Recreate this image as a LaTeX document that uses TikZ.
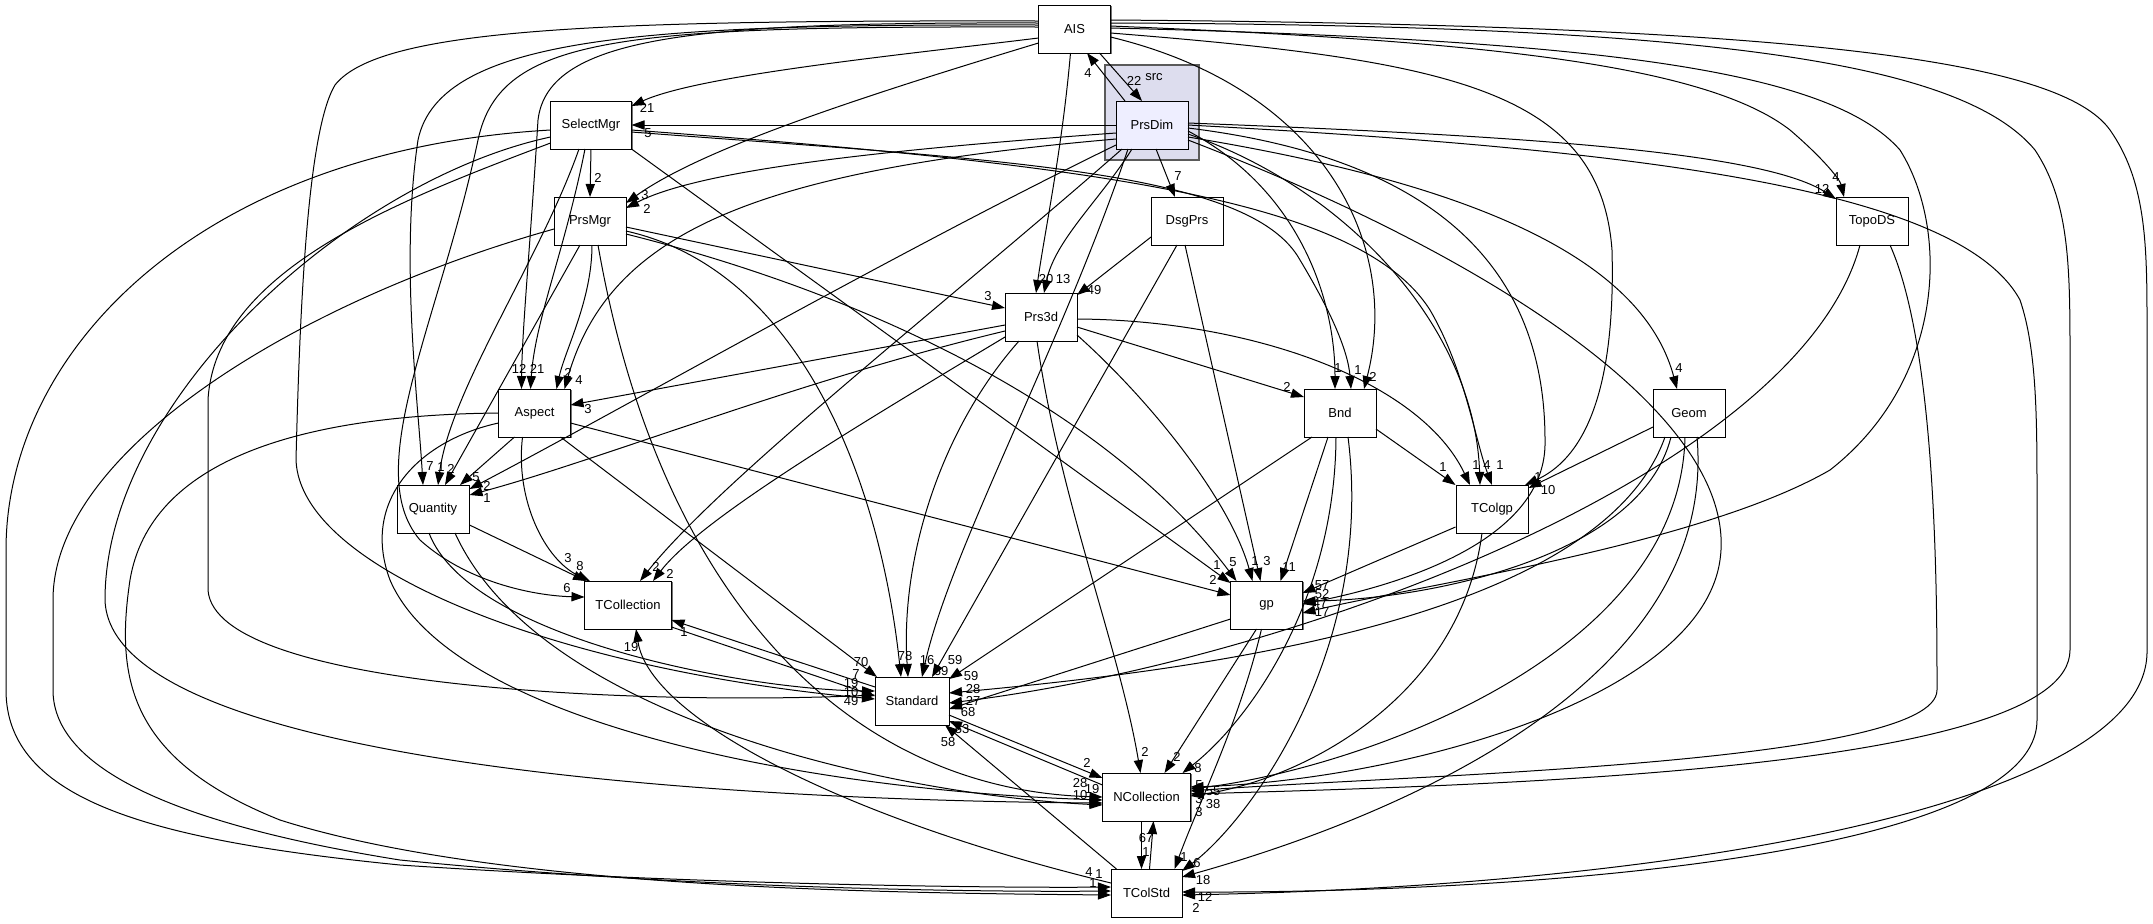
\documentclass[tikz,border=0pt]{standalone}
\usepackage{fontspec}
\setmainfont{Liberation Sans}
\usetikzlibrary{arrows.meta,calc,shadows}
\definecolor{clfill}{RGB}{221,221,238}
\definecolor{clline}{RGB}{90,90,90}
\definecolor{pdfill}{RGB}{238,238,255}
\begin{document}
\begin{tikzpicture}[x=0.5pt,y=-0.5pt,
  box/.style={draw=black, line width=0.5pt, fill=white, minimum width=36pt, minimum height=24pt, inner sep=0pt, font=\fontsize{6.5}{7}\selectfont,
     general shadow={fill=black!55, shadow xshift=0.6pt, shadow yshift=-0.6pt}},
  e/.style={line width=0.5pt, -{Triangle[length=6.5pt,width=4.6pt]}},
  lbl/.style={font=\fontsize{6.5}{7}\selectfont, inner sep=0pt}]
\useasboundingbox (0,0) rectangle (2153,923);
\fill[white] (0,0) rectangle (2153,923);
% cluster
\node[draw=clline, line width=0.7pt, fill=clfill, minimum width=47pt, minimum height=47.5pt, inner sep=0pt,
      general shadow={fill=black!45, shadow xshift=0.6pt, shadow yshift=-0.6pt}] (srcbox) at (1152,112.5) {};
\node[lbl] (srclbl) at (1154,77) {src};
% nodes
\node[box] (ais) at (1074.5,29) {AIS};
\node[box, fill=pdfill] (pd) at (1152,125) {PrsDim};
\node[box, minimum width=40.5pt] (sm) at (591,125) {SelectMgr};
\node[box] (pm) at (590,221) {PrsMgr};
\node[box] (dp) at (1187,221) {DsgPrs};
\node[box] (td) at (1872,221) {TopoDS};
\node[box] (p3) at (1041,317) {Prs3d};
\node[box] (bnd) at (1340,413) {Bnd};
\node[box] (geom) at (1689,413) {Geom};
\node[box] (asp) at (534.5,413) {Aspect};
\node[box] (qty) at (433,509) {Quantity};
\node[box] (tcg) at (1492,509) {TColgp};
\node[box, minimum width=43.5pt] (tcl) at (628,605) {TCollection};
\node[box] (gp) at (1266.5,605) {gp};
\node[box, minimum width=37pt] (std) at (912,701) {Standard};
\node[box, minimum width=44pt] (ncl) at (1146.5,797) {NCollection};
\node[box, minimum width=35.5pt] (tcs) at (1146.5,893) {TColStd};

% ---- AIS outgoing
\draw[e] ($(ais)+(-36,9)$) .. controls (900,55) and (700,75) .. ($(sm)+(40.5,-19)$) node[lbl] (L1) at (647,108) {21};
\draw[e] ($(ais)+(25,24)$) -- ($(pd)+(-10,-24)$) node[lbl] (L2) at (1134,81) {22};
\draw[e] ($(pd)+(-27,-24)$) -- ($(ais)+(12.5,24)$) node[lbl] (L3) at (1088,73) {4};
\draw[e] ($(ais)+(-36,14)$) .. controls (850,100) and (700,150) .. ($(pm)+(36,-18)$) node[lbl] (L4) at (645,195) {3};
\draw[e] ($(ais)+(-4,24)$) .. controls (1062,150) and (1045,230) .. ($(p3)+(-5,-24)$) node[lbl] (L5) at (1046,279) {20};
\draw[e] ($(ais)+(-36,-6)$) .. controls (700,22) and (548,35) .. (538,120) .. controls (530,250) and (522,330) .. ($(asp)+(-13,-24)$) node[lbl] (L6) at (519,369) {12};
\draw[e] ($(ais)+(-36,-4)$) .. controls (650,24) and (440,35) .. (418,140) .. controls (400,260) and (418,400) .. ($(qty)+(-10,-24)$) node[lbl] (L7) at (430,466) {7};
\draw[e] ($(ais)+(-36,-2)$) .. controls (620,26) and (500,36) .. (478,140) .. controls (440,320) and (360,470) .. (420,540) .. controls (470,585) and (540,596) .. ($(tcl)+(-43.5,-8)$) node[lbl] (L8) at (567,588) {6};
\draw[e] ($(ais)+(-36,-8)$) .. controls (600,20) and (380,28) .. (335,85) .. controls (308,130) and (300,300) .. (296,460) .. controls (300,570) and (560,670) .. ($(std)+(-37,-2)$) node[lbl] (L9) at (851,692) {10};
\draw[e] ($(ais)+(36,-3)$) .. controls (1450,40) and (1700,60) .. (1790,130) .. controls (1825,160) and (1840,180) .. ($(td)+(-28,-24)$) node[lbl] (L10) at (1836,177) {4};
\draw[e] ($(ais)+(36,8)$) .. controls (1330,90) and (1400,250) .. ($(bnd)+(24,-24)$) node[lbl] (L11) at (1373,377) {2};
\draw[e] ($(ais)+(36,4)$) .. controls (1450,60) and (1600,90) .. (1612,250) .. controls (1616,400) and (1580,460) .. ($(tcg)+(33,-24)$) node[lbl] (L12) at (1538,477) {1};
\draw[e] ($(ais)+(36,-1)$) .. controls (1600,40) and (1830,70) .. (1900,150) .. controls (1950,230) and (1945,380) .. (1830,470) .. controls (1700,545) and (1420,585) .. ($(gp)+(36,8)$) node[lbl] (L13) at (1322,612) {17};
\draw[e] ($(ais)+(36,-6)$) .. controls (1700,25) and (1960,60) .. (2035,150) .. controls (2068,200) and (2070,260) .. (2070,350) -- (2070,650) .. controls (2070,770) and (1500,785) .. ($(ncl)+(44,-3)$) node[lbl] (L14) at (1199,785) {5};
\draw[e] ($(ais)+(36,-9)$) .. controls (1800,25) and (2060,60) .. (2110,130) .. controls (2145,180) and (2147,240) .. (2147,320) -- (2147,650) .. controls (2150,800) and (1700,885) .. ($(tcs)+(35.5,2)$) node[lbl] (L15) at (1196,908) {2};

% ---- PrsDim outgoing
\draw[e] ($(pd)+(-36,0)$) -- ($(sm)+(40.5,0)$) node[lbl] (L16) at (648,133) {5};
\draw[e] ($(pd)+(-36,8)$) .. controls (880,150) and (700,170) .. ($(pm)+(36,-13)$) node[lbl] (L17) at (647,209) {2};
\draw[e] ($(pd)+(4,24)$) -- ($(dp)+(-12,-24)$) node[lbl] (L18) at (1178,176) {7};
\draw[e] ($(pd)+(-20,24)$) .. controls (1100,200) and (1055,240) .. ($(p3)+(3,-24)$) node[lbl] (L19) at (1063,279) {13};
\draw[e] ($(pd)+(-36,14)$) .. controls (760,170) and (610,230) .. ($(asp)+(30,-24)$) node[lbl] (L20) at (579,380) {4};
\draw[e] ($(pd)+(-36,20)$) .. controls (900,250) and (620,410) .. ($(qty)+(36.5,-20)$) node[lbl] (L21) at (487,486) {2};
\draw[e] ($(pd)+(-30,24)$) .. controls (950,300) and (720,480) .. ($(tcl)+(12,-24)$) node[lbl] (L22) at (656,567) {2};
\draw[e] ($(pd)+(-24,24)$) .. controls (1060,350) and (950,550) .. ($(std)+(10,-24)$) node[lbl] (L23) at (927,660) {16};
\draw[e] ($(pd)+(36,6)$) .. controls (1300,190) and (1335,300) .. ($(bnd)+(-5,-24)$) node[lbl] (L24) at (1338,368) {1};
\draw[e] ($(pd)+(36,9)$) .. controls (1350,190) and (1475,330) .. ($(tcg)+(-12,-24)$) node[lbl] (L25) at (1487,465) {4};
\draw[e] ($(pd)+(36,3)$) .. controls (1450,160) and (1545,280) .. (1545,440) .. controls (1548,540) and (1400,585) .. ($(gp)+(36,-1)$) node[lbl] (L26) at (1322,594) {52};
\draw[e] ($(pd)+(36,12)$) .. controls (1450,180) and (1640,250) .. ($(geom)+(-12,-24)$) node[lbl] (L27) at (1679,368) {4};
\draw[e] ($(pd)+(36,-2)$) .. controls (1500,135) and (1760,150) .. ($(td)+(-36,-22)$) node[lbl] (L28) at (1822,189) {12};
\draw[e] ($(pd)+(36,15)$) .. controls (1500,260) and (1740,420) .. (1720,560) .. controls (1700,700) and (1400,780) .. ($(ncl)+(44,-10)$) node[lbl] (L29) at (1213,791) {55};
\draw[e] ($(pd)+(36,0)$) .. controls (1650,150) and (1960,190) .. (2020,300) .. controls (2037,350) and (2037,420) .. (2037,500) -- (2037,720) .. controls (2037,860) and (1500,893) .. ($(tcs)+(35.5,-1)$) node[lbl] (L30) at (1205,897) {12};

% ---- SelectMgr outgoing
\draw[e] ($(sm)+(0,24)$) -- ($(pm)+(0,-24)$) node[lbl] (L31) at (598,178) {2};
\draw[e] ($(sm)+(-6,24)$) .. controls (565,250) and (535,320) .. ($(asp)+(-4,-24)$) node[lbl] (L32) at (537,369) {21};
\draw[e] ($(sm)+(-12,24)$) .. controls (540,260) and (450,390) .. ($(qty)+(5,-24)$) node[lbl] (L33) at (441,467) {1};
\draw[e] ($(sm)+(-40.5,18)$) .. controls (400,200) and (215,270) .. (208,400) -- (208,590) .. controls (215,690) and (650,705) .. ($(std)+(-37,-6)$) node[lbl] (L34) at (851,683) {19};
\draw[e] ($(sm)+(-40.5,12)$) .. controls (350,180) and (105,400) .. (105,600) .. controls (110,760) and (700,800) .. ($(ncl)+(-44,6)$) node[lbl] (L35) at (1080,783) {28};
\draw[e] ($(sm)+(-40.5,5)$) .. controls (200,150) and (6,350) .. (6,550) -- (6,690) .. controls (6,800) and (150,840) .. (400,865) .. controls (700,885) and (1000,888) .. ($(tcs)+(-35.5,-6)$) node[lbl] (L36) at (1099,874) {1};
\draw[e] ($(sm)+(40.5,24)$) -- ($(gp)+(-36,-22)$) node[lbl] (L37) at (1217,565) {1};
\draw[e] ($(sm)+(40.5,7)$) .. controls (1000,160) and (1250,170) .. (1300,260) .. controls (1330,310) and (1348,350) .. ($(bnd)+(11,-24)$) node[lbl] (L38) at (1358,370) {1};
\draw[e] ($(sm)+(40.5,5)$) .. controls (1100,165) and (1360,200) .. (1430,310) .. controls (1465,370) and (1475,440) .. ($(tcg)+(0,-24)$) node[lbl] (L39) at (1500,465) {1};

% ---- PrsMgr outgoing
\draw[e] ($(pm)+(36,6)$) -- ($(p3)+(-36,-9)$) node[lbl] (L40) at (988,296) {3};
\draw[e] ($(pm)+(2,24)$) .. controls (592,300) and (565,350) .. ($(asp)+(22,-24)$) node[lbl] (L41) at (568,373) {2};
\draw[e] ($(pm)+(-10,24)$) -- ($(qty)+(12,-24)$) node[lbl] (L42) at (451,469) {2};
\draw[e] ($(pm)+(36,10)$) .. controls (800,270) and (880,480) .. ($(std)+(-11,-24)$) node[lbl] (L43) at (905,656) {78};
\draw[e] ($(pm)+(36,13)$) .. controls (850,290) and (1100,400) .. ($(gp)+(-30,-24)$) node[lbl] (L44) at (1233,562) {5};
\draw[e] ($(pm)+(8,24)$) .. controls (660,600) and (850,790) .. ($(ncl)+(-44,0)$) node[lbl] (L45) at (1080,795) {10};
\draw[e] ($(pm)+(-36,8)$) .. controls (300,300) and (53,450) .. (53,600) -- (53,690) .. controls (53,760) and (150,820) .. (400,860) .. controls (700,890) and (1000,892) .. ($(tcs)+(-35.5,-2)$) node[lbl] (L46) at (1093,883) {1};

% ---- DsgPrs outgoing
\draw[e] ($(dp)+(-36,16)$) -- ($(p3)+(36,-22)$) node[lbl] (L47) at (1094,290) {49};
\draw[e] ($(dp)+(-10,24)$) -- ($(std)+(20,-24)$) node[lbl] (L48) at (941,671) {69};
\draw[e] ($(dp)+(-2,24)$) -- ($(gp)+(-6,-24)$) node[lbl] (L49) at (1267,561) {3};

% ---- TopoDS outgoing
\draw[e] ($(td)+(-12,24)$) .. controls (1800,470) and (1300,660) .. ($(std)+(37,2)$) node[lbl] (L50) at (973,701) {27};
\draw[e] ($(td)+(18,24)$) .. controls (1937,350) and (1937,600) .. (1937,690) .. controls (1937,765) and (1400,775) .. ($(ncl)+(44,-6)$) node[lbl] (L51) at (1199,799) {3};

% ---- Prs3d outgoing
\draw[e] ($(p3)+(-36,8)$) -- ($(asp)+(36,-8)$) node[lbl] (L52) at (588,409) {3};
\draw[e] ($(p3)+(-36,14)$) .. controls (800,380) and (600,460) .. ($(qty)+(36.5,-14)$) node[lbl] (L53) at (487,498) {1};
\draw[e] ($(p3)+(-36,20)$) .. controls (850,430) and (700,520) .. ($(tcl)+(25,-24)$) node[lbl] (L54) at (670,574) {2};
\draw[e] ($(p3)+(-22,24)$) .. controls (940,430) and (900,560) .. ($(std)+(-4,-24)$) node[lbl] (L55) at (955,660) {59};
\draw[e] ($(p3)+(36,10)$) -- ($(bnd)+(-36,-16)$) node[lbl] (L56) at (1287,387) {2};
\draw[e] ($(p3)+(36,2)$) .. controls (1250,320) and (1420,380) .. ($(tcg)+(-22,-24)$) node[lbl] (L57) at (1476,465) {1};
\draw[e] ($(p3)+(36,18)$) .. controls (1150,400) and (1230,500) .. ($(gp)+(-14,-24)$) node[lbl] (L58) at (1255,561) {1};
\draw[e] ($(p3)+(-4,24)$) .. controls (1060,500) and (1120,650) .. ($(ncl)+(-6,-24)$) node[lbl] (L59) at (1145,752) {2};

% ---- Aspect outgoing
\draw[e] ($(asp)+(-20,24)$) -- ($(qty)+(27,-24)$) node[lbl] (L60) at (476,477) {5};
\draw[e] ($(asp)+(-12,24)$) .. controls (515,500) and (545,560) .. ($(tcl)+(-38,-24)$) node[lbl] (L61) at (580,566) {8};
\draw[e] ($(asp)+(26,24)$) -- ($(std)+(-35,-24)$) node[lbl] (L62) at (861,662) {70};
\draw[e] ($(asp)+(36,10)$) -- ($(gp)+(-36,-10)$) node[lbl] (L63) at (1213,580) {2};
\draw[e] ($(asp)+(-36,10)$) .. controls (420,440) and (360,500) .. (390,580) .. controls (450,720) and (800,790) .. ($(ncl)+(-44,3)$) node[lbl] (L64) at (1092,789) {19};
\draw[e] ($(asp)+(-36,0)$) .. controls (300,415) and (150,460) .. (130,580) .. controls (115,680) and (130,760) .. (280,820) .. controls (500,890) and (900,893) .. ($(tcs)+(-35.5,2)$) node[lbl] (L65) at (1089,872) {4};

% ---- Quantity outgoing
\draw[e] ($(qty)+(36.5,16)$) -- ($(tcl)+(-42,-24)$) node[lbl] (L66) at (568,558) {3};
\draw[e] ($(qty)+(-4,24)$) .. controls (470,640) and (750,690) .. ($(std)+(-37,-10)$) node[lbl] (L67) at (856,674) {7};
\draw[e] ($(qty)+(22,24)$) .. controls (540,720) and (900,795) .. ($(ncl)+(-44,8)$) node[lbl] (L68) at (1093,803) {2};

% ---- TCollection / Standard
\draw[e] ($(tcl)+(43.5,22)$) -- ($(std)+(-37,-5)$) node[lbl] (L69) at (851,701) {49};
\draw[e] ($(std)+(-37,-14)$) -- ($(tcl)+(43.5,15)$) node[lbl] (L70) at (684,632) {1};

% ---- Bnd outgoing
\draw[e] ($(bnd)+(36,16)$) -- ($(tcg)+(-36.5,-24)$) node[lbl] (L71) at (1443,467) {1};
\draw[e] ($(bnd)+(-12,24)$) -- ($(gp)+(14,-24)$) node[lbl] (L72) at (1289,567) {11};
\draw[e] ($(bnd)+(-28,24)$) -- ($(std)+(37,-22)$) node[lbl] (L73) at (971,676) {59};
\draw[e] ($(bnd)+(-4,24)$) .. controls (1335,600) and (1250,720) .. ($(ncl)+(36,-24)$) node[lbl] (L74) at (1198,768) {8};
\draw[e] ($(bnd)+(8,24)$) .. controls (1375,650) and (1250,820) .. ($(tcs)+(35.5,-22)$) node[lbl] (L75) at (1197,863) {6};

% ---- Geom outgoing
\draw[e] ($(geom)+(-36,14)$) -- ($(tcg)+(36.5,-21)$) node[lbl] (L76) at (1548,490) {10};
\draw[e] ($(geom)+(-18,24)$) .. controls (1640,560) and (1420,600) .. ($(gp)+(36,-4)$) node[lbl] (L77) at (1320,603) {47};
\draw[e] ($(geom)+(-24,24)$) .. controls (1600,620) and (1200,670) .. ($(std)+(37,-8)$) node[lbl] (L78) at (973,689) {28};
\draw[e] ($(geom)+(-4,24)$) .. controls (1680,660) and (1350,770) .. ($(ncl)+(44,-8)$) node[lbl] (L79) at (1213,804) {38};
\draw[e] ($(geom)+(8,24)$) .. controls (1720,700) and (1350,830) .. ($(tcs)+(35.5,-16)$) node[lbl] (L80) at (1203,880) {18};

% ---- TColgp outgoing
\draw[e] ($(tcg)+(-36.5,18)$) -- ($(gp)+(36,-12)$) node[lbl] (L81) at (1322,585) {57};
\draw[e] ($(tcg)+(-10,24)$) .. controls (1460,700) and (1300,780) .. ($(ncl)+(44,-1)$) node[lbl] (L82) at (1199,812) {3};

% ---- gp outgoing
\draw[e] ($(gp)+(-36,14)$) -- ($(std)+(37,8)$) node[lbl] (L83) at (968,712) {68};
\draw[e] ($(gp)+(-10,24)$) -- ($(ncl)+(18,-24)$) node[lbl] (L84) at (1177,757) {2};
\draw[e] ($(gp)+(-5,24)$) .. controls (1240,720) and (1200,800) .. ($(tcs)+(28,-24)$) node[lbl] (L85) at (1184,857) {1};

% ---- Standard / NCollection / TColStd
\draw[e] ($(std)+(37,14)$) -- ($(ncl)+(-44,-19)$) node[lbl] (L86) at (1087,763) {2};
\draw[e] ($(ncl)+(-44,-12)$) -- ($(std)+(37,20)$) node[lbl] (L87) at (962,729) {53};
\draw[e] ($(tcs)+(-30,-24)$) -- ($(std)+(33,24)$) node[lbl] (L88) at (948,742) {58};
\draw[e] ($(ncl)+(-5,24)$) -- ($(tcs)+(-5,-24)$) node[lbl] (L89) at (1146,838) {67};
\draw[e] ($(tcs)+(3,-24)$) -- ($(ncl)+(7,24)$) node[lbl] (L90) at (1146,852) {1};
\draw[e] ($(tcs)+(-35.5,-10)$) .. controls (850,820) and (650,720) .. ($(tcl)+(8,24)$) node[lbl] (L91) at (631,647) {19};
\end{tikzpicture}
\end{document}
